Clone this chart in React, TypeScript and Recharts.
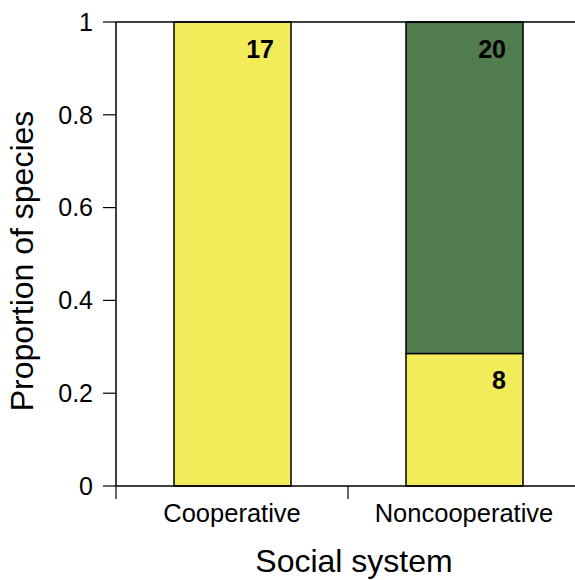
import React from 'react';
import { BarChart, Bar, XAxis, YAxis, ReferenceLine, LabelList } from 'recharts';

const categories = ['Cooperative', 'Noncooperative'];
const categoryCenters = [0.5, 1.5];
const yellowCounts = [17, 8];
const greenCounts = [0, 20];
const yTicks = [0, 0.2, 0.4, 0.6, 0.8, 1];
const xTicks = [0, 0.5, 1, 1.5, 2];

const FONT = '"Liberation Sans", Arial, Helvetica, sans-serif';
const YELLOW = '#F3EC5A';
const GREEN = '#517C4D';

const data = categories.map((name, i) => {
  const total = yellowCounts[i] + greenCounts[i];
  return {
    name,
    pos: categoryCenters[i],
    yellow: yellowCounts[i] / total,
    green: greenCounts[i] / total,
    yellowN: yellowCounts[i],
    greenN: greenCounts[i],
  };
});

const CountLabel = (props: any) => {
  const { x, y, width, value } = props;
  if (!value) return null;
  return (
    <text x={Number(x) + Number(width) - 17} y={Number(y) + 36} textAnchor="end" fontSize={25} fontWeight="bold" fill="#000" fontFamily={FONT}>
      {value}
    </text>
  );
};

const XTick = (props: any) => {
  const { x, y, payload } = props;
  const v = payload.value;
  if (Number.isInteger(v)) {
    return <line x1={x} x2={x} y1={y} y2={y + 13} stroke="#000" strokeWidth={1.2} />;
  }
  const name = categories[categoryCenters.indexOf(v)];
  return (
    <text x={x} y={y + 36} textAnchor="middle" fontSize={25.5} fill="#000" fontFamily={FONT}>
      {name}
    </text>
  );
};

const YTitle = (props: any) => {
  const vb = props.viewBox || {};
  const cx = vb.x + 33;
  const cy = vb.y + vb.height / 2 + 7;
  return (
    <text x={cx} y={cy} transform={`rotate(-90, ${cx}, ${cy})`} textAnchor="middle" fontSize={32} fill="#000" fontFamily={FONT}>
      Proportion of species
    </text>
  );
};

const XTitle = (props: any) => {
  const vb = props.viewBox || {};
  const cx = vb.x + vb.width / 2 + 6;
  const cy = vb.y + 86;
  return (
    <text x={cx} y={cy} textAnchor="middle" fontSize={32} fill="#000" fontFamily={FONT}>
      Social system
    </text>
  );
};

export default function App() {
  return (
    <div style={{ position: 'absolute', left: 0, top: 0, background: '#fff' }}>
      <BarChart width={575} height={580} data={data} margin={{ top: 22, right: -5, bottom: 0, left: 0 }}>
        <XAxis
          dataKey="pos"
          type="number"
          domain={[0, 2]}
          ticks={xTicks}
          interval={0}
          tickSize={0}
          tickMargin={0}
          tickLine={false}
          tick={<XTick />}
          axisLine={{ stroke: '#000', strokeWidth: 1.5 }}
          height={94}
          label={<XTitle />}
        />
        <YAxis
          type="number"
          domain={[0, 1]}
          ticks={yTicks}
          interval={0}
          width={116}
          tickSize={13}
          tickMargin={10}
          tickLine={{ stroke: '#000', strokeWidth: 1.2 }}
          axisLine={{ stroke: '#000', strokeWidth: 1.5 }}
          tick={{ fill: '#000', fontSize: 25, fontFamily: FONT }}
          label={<YTitle />}
        />
        <ReferenceLine y={1} stroke="#000" strokeWidth={1.5} />
        <Bar dataKey="yellow" stackId="a" fill={YELLOW} stroke="#000" strokeWidth={1.5} barSize={117} isAnimationActive={false}>
          <LabelList dataKey="yellowN" content={<CountLabel />} />
        </Bar>
        <Bar dataKey="green" stackId="a" fill={GREEN} stroke="#000" strokeWidth={1.5} barSize={117} isAnimationActive={false}>
          <LabelList dataKey="greenN" content={<CountLabel />} />
        </Bar>
      </BarChart>
    </div>
  );
}
